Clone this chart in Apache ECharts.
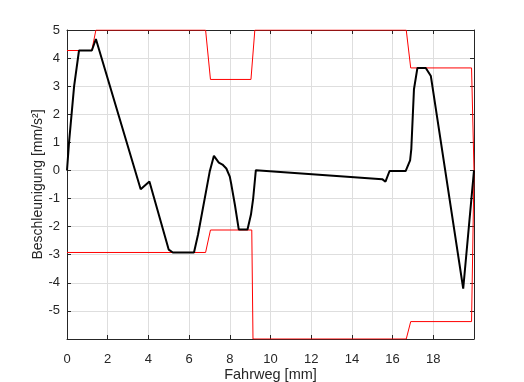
<!DOCTYPE html>
<html>
<head>
<meta charset="utf-8">
<script src="https://cdn.jsdelivr.net/npm/echarts@6/dist/echarts.min.js"></script>
<style>
  html, body { margin: 0; padding: 0; background: #fff; }
  #chart { width: 524px; height: 382px; }
</style>
</head>
<body>
<div id="chart"></div>
<script>
// measured curve (black)
var accelX = [0, 0.1, 0.35, 0.59, 1.22, 1.42, 3.62, 4.05, 5.0, 5.2, 6.24, 6.44, 7.01, 7.22, 7.46, 7.64, 7.83, 8.0, 8.08, 8.25, 8.44, 8.87, 9.04, 9.15, 9.28, 15.49, 15.65, 15.85, 16.64, 16.86, 16.92, 17.05, 17.22, 17.63, 17.88, 19.47, 20];
var accelY = [0, 1.0, 3.0, 4.27, 4.27, 4.68, -0.67, -0.39, -2.82, -2.92, -2.92, -2.28, -0.05, 0.52, 0.28, 0.21, 0.07, -0.22, -0.52, -1.22, -2.1, -2.1, -1.57, -0.99, 0.01, -0.31, -0.4, -0.02, -0.02, 0.36, 0.77, 2.89, 3.65, 3.65, 3.36, -4.21, 0];

// limits (red)
var upperX = [0, 1.22, 1.42, 6.81, 7.05, 9.04, 9.23, 16.67, 16.89, 19.88, 20];
var upperY = [4.27, 4.27, 5, 5, 3.24, 3.24, 5, 5, 3.65, 3.65, 0];
var lowerX = [0, 6.81, 7.05, 9.08, 9.14, 16.67, 16.89, 19.88, 20];
var lowerY = [-2.92, -2.92, -2.12, -2.12, -6, -6, -5.38, -5.38, 0];

var xTicks = [0, 2, 4, 6, 8, 10, 12, 14, 16, 18];
var yTicks = [-5, -4, -3, -2, -1, 0, 1, 2, 3, 4, 5];

function pairs(xs, ys) {
  var out = [];
  for (var i = 0; i < xs.length; i++) out.push([xs[i], ys[i]]);
  return out;
}

var txt = '#262626';
var font = 'Liberation Sans, Arial, sans-serif';

var chartDom = document.getElementById('chart');
var myChart = echarts.init(chartDom);
var option;

option = {
  animation: false,
  backgroundColor: '#fff',
  textStyle: { fontFamily: font },
  grid: { left: 67, right: 50, top: 30, bottom: 43, outerBoundsMode: 'none' },
  xAxis: [
    {
      type: 'value', min: 0, max: 20, interval: 2,
      name: 'Fahrweg [mm]', nameLocation: 'middle', nameGap: 28, nameMoveOverlap: false,
      nameTextStyle: { color: txt, fontSize: 14.5, fontFamily: font },
      axisLine: { show: true, onZero: false, lineStyle: { color: txt, width: 1 } },
      axisTick: { inside: true, length: 4, lineStyle: { color: txt } },
      axisLabel: {
        color: txt, fontSize: 13, fontFamily: font, margin: 14,
        formatter: function (v) { return xTicks.indexOf(v) >= 0 ? String(v) : ''; }
      },
      splitLine: { show: true, lineStyle: { color: '#dedede', width: 1 } }
    },
    {
      type: 'value', min: 0, max: 20, interval: 2, position: 'top',
      axisLine: { show: true, onZero: false, lineStyle: { color: txt, width: 1 } },
      axisTick: { inside: true, length: 4, lineStyle: { color: txt } },
      axisLabel: { show: false },
      splitLine: { show: false }
    }
  ],
  yAxis: [
    {
      type: 'value', min: -6, max: 5, interval: 1,
      name: 'Beschleunigung [mm/s²]', nameLocation: 'middle', nameGap: 22, nameMoveOverlap: false,
      nameTextStyle: { color: txt, fontSize: 14, fontFamily: font },
      axisLine: { show: true, onZero: false, lineStyle: { color: txt, width: 1 } },
      axisTick: { inside: true, length: 4, lineStyle: { color: txt } },
      axisLabel: {
        color: txt, fontSize: 13, fontFamily: font, margin: 7,
        formatter: function (v) { return yTicks.indexOf(v) >= 0 ? String(v) : ''; }
      },
      splitLine: { show: true, lineStyle: { color: '#dedede', width: 1 } }
    },
    {
      type: 'value', min: -6, max: 5, interval: 1, position: 'right',
      axisLine: { show: true, onZero: false, lineStyle: { color: txt, width: 1 } },
      axisTick: { inside: true, length: 4, lineStyle: { color: txt } },
      axisLabel: { show: false },
      splitLine: { show: false }
    }
  ],
  series: [
    {
      name: 'upper', type: 'line', data: pairs(upperX, upperY),
      showSymbol: false, lineStyle: { color: '#ff0000', width: 1 }, z: 2
    },
    {
      name: 'lower', type: 'line', data: pairs(lowerX, lowerY),
      showSymbol: false, lineStyle: { color: '#ff0000', width: 1 }, z: 2
    },
    {
      name: 'accel', type: 'line', data: pairs(accelX, accelY),
      showSymbol: false, lineStyle: { color: '#000000', width: 2 }, z: 3
    }
  ]
};

myChart.setOption(option);
</script>
</body>
</html>
